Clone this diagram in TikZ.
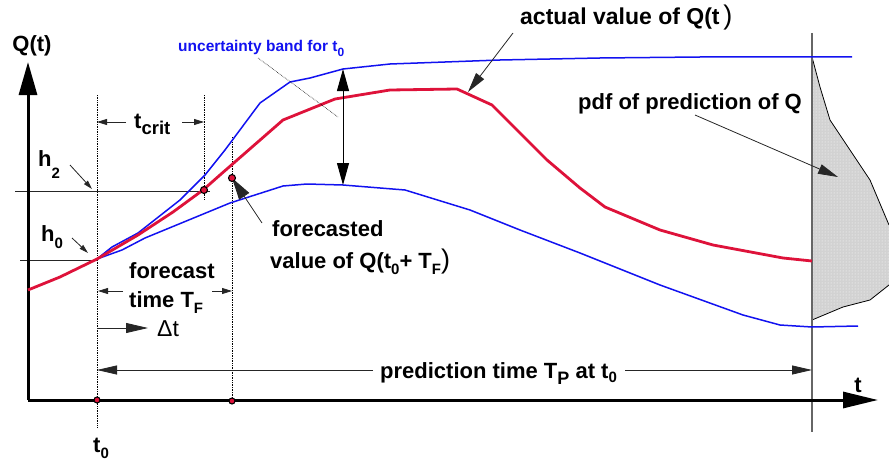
\documentclass[tikz,border=0pt]{standalone}
\usepackage{fontspec}
\setmainfont{Liberation Sans}
\usetikzlibrary{arrows.meta,patterns}
\definecolor{qred}{RGB}{222,18,58}
\definecolor{qblue}{RGB}{18,18,240}
\newcommand\lsub[2][0.5ex]{\raisebox{-#1}{\fontsize{15}{15}\selectfont #2}}
\newcommand\bigparen{{\mdseries\fontsize{27}{27}\selectfont )}}
\tikzset{
  lbl/.style={font=\bfseries\fontsize{22}{24}\selectfont, inner sep=0pt},
  smalllbl/.style={font=\bfseries\fontsize{15.5}{17}\selectfont, inner sep=0pt, text=qblue},
  axisline/.style={line width=3pt},
  thinline/.style={line width=0.8pt, black!85},
  dotline/.style={densely dotted, line width=0.7pt},
  redcurve/.style={qred, line width=2.8pt, line join=round},
  bluecurve/.style={qblue, line width=1.5pt, line join=round},
  smallarr/.style={thinline, -{Triangle[length=9pt,width=5pt]}},
  reddot/.style={circle, fill=qred, draw=black, line width=1.1pt, inner sep=0pt, minimum size=7pt},
}
\begin{document}
\begin{tikzpicture}[x=1pt,y=-1pt]
\useasboundingbox (0,0) rectangle (889,460);
% pdf shape
\fill[gray!35] (812,57) -- (820,87) -- (830,120) -- (870,180) -- (889,225) -- (889,285) -- (870,300) -- (843,307) -- (812,320) -- cycle;
\fill[pattern=dots, pattern color=white] (812,57) -- (820,87) -- (830,120) -- (870,180) -- (889,225) -- (889,285) -- (870,300) -- (843,307) -- (812,320) -- cycle;
\draw[line width=0.8pt] (812,57) -- (820,87) -- (830,120) -- (870,180) -- (889,225);
\draw[line width=0.8pt] (889,285) -- (870,300) -- (843,307) -- (812,320);
% vertical grey line at prediction horizon
\coordinate (vtop) at (812,33);
\coordinate (vbot) at (812,432);
\draw[line width=1.2pt, gray!80!black] (vtop) -- (vbot);
% dotted vertical lines
\coordinate (d0t) at (97,95);   \coordinate (d0b) at (97,428);
\coordinate (d1t) at (204,95);  \coordinate (d1b) at (204,200);
\coordinate (d2t) at (232,137); \coordinate (d2b) at (232,401);
\draw[dotline] (d0t) -- (d0b);
\draw[dotline] (d1t) -- (d1b);
\draw[dotline] (d2t) -- (d2b);
% h lines
\coordinate (h2a) at (15,191); \coordinate (h2b) at (210,191);
\coordinate (h0a) at (20,260); \coordinate (h0b) at (97,260);
\draw[thinline] (h2a) -- (h2b);
\draw[thinline] (h0a) -- (h0b);
% axes
\coordinate (O) at (28,400);
\coordinate (ytip) at (28,62);
\coordinate (xtip) at (878,400);
\draw[axisline, -{Triangle[length=33pt,width=18pt]}] (O) -- (ytip);
\draw[axisline, -{Triangle[length=35pt,width=16pt]}] (O) -- (xtip);
\node[lbl] (Qlab) at (32,46) {Q(t)};
\node[lbl, anchor=base] (tlab) at (858,392) {t};
% curves
\draw[bluecurve] (97,259) -- (112,247) -- (138,233) -- (180,200) -- (205,175) -- (225,150) -- (260,103) -- (290,82) -- (310,78) -- (343,69) -- (390,64) -- (500,60) -- (600,58) -- (700,57) -- (852,57);
\draw[bluecurve] (97,259) -- (122,250) -- (145,238) -- (230,203) -- (283,186) -- (307,184) -- (343,185) -- (405,190) -- (470,210) -- (520,230) -- (580,253) -- (660,285) -- (743,315) -- (780,325) -- (812,327) -- (858,326);
\draw[redcurve] (28,290) -- (60,277) -- (97,259) -- (138,235) -- (173,212) -- (203,190) -- (220,175) -- (283,120) -- (335,99) -- (390,90) -- (457,89) -- (492,105) -- (547,160) -- (580,188) -- (605,207) -- (660,230) -- (713,245) -- (783,258) -- (812,261);
% uncertainty double arrow
\coordinate (ubtop) at (343,69);
\coordinate (ubbot) at (343,185);
\draw[line width=1pt, {Triangle[length=22pt,width=12pt]}-{Triangle[length=22pt,width=12pt]}] (ubtop) -- (ubbot);
% uncertainty label and dotted pointer
\node[smalllbl, anchor=base west] (unc) at (178,52) {uncertainty band for t\lsub[0.55ex]{\fontsize{12}{12}\selectfont 0}};
\coordinate (ucA) at (258,58);
\coordinate (ucB) at (338,117);
\draw[densely dotted, line width=0.6pt] (ucA) -- (ucB);
% actual value
\node[lbl, font=\bfseries\fontsize{23}{24}\selectfont, anchor=base west] (act) at (520,25) {actual value of Q(t\,\bigparen};
\coordinate (actp) at (468,92);
\draw[thinline, -{Triangle[length=20pt,width=10pt]}] (513,33) -- (actp);
% pdf label
\node[lbl, anchor=base west] (pdf) at (578,110) {pdf of prediction of Q};
\coordinate (pdfp) at (838,177);
\draw[thinline, -{Triangle[length=20pt,width=10pt]}] (695,115) -- (pdfp);
% h labels
\node[lbl, anchor=base west] (h2) at (38,166) {h\lsub[12pt]{2}};
\coordinate (h2p) at (92,189);
\draw[smallarr] (70,165) -- (h2p);
\node[lbl, anchor=base west] (h0) at (41,241) {h\lsub[7pt]{0}};
\coordinate (h0p) at (88,253);
\draw[smallarr] (72,238) -- (h0p);
% t crit
\node[lbl, anchor=base west] (tcrit) at (134,128) {t\lsub[6pt]{\fontsize{18.5}{18}\selectfont crit}};
\coordinate (tcl) at (97,122); \coordinate (tcr) at (204,122);
\draw[smallarr, -{Triangle[length=10pt,width=6pt]}] (126,122) -- (tcl);
\draw[smallarr, -{Triangle[length=10pt,width=6pt]}] (182,122) -- (tcr);
% forecast time
\node[lbl, anchor=base west] (fc1) at (129,278) {forecast};
\node[lbl, anchor=base west] (fc2) at (129,307) {time T\lsub[6pt]{F}};
\coordinate (ftl) at (98,291); \coordinate (ftr) at (232,291);
\draw[smallarr, -{Triangle[length=10pt,width=6pt]}] (123,291) -- (ftl);
\draw[smallarr, -{Triangle[length=10pt,width=6pt]}] (212,291) -- (ftr);
% delta t
\coordinate (dts) at (97,328);
\node[font=\fontsize{23}{24}\selectfont, inner sep=0pt, anchor=base west] (dt) at (157,336) {Δt};
\draw[thinline, -{Triangle[length=22pt,width=10pt]}] (dts) -- (148,328);
% prediction time
\node[lbl, anchor=base west] (pt) at (380,378) {prediction time T\lsub[6pt]{\fontsize{18}{18}\selectfont P} at t\lsub[4pt]{0}};
\coordinate (ptl) at (97,370); \coordinate (ptr) at (812,370);
\draw[thinline, -{Triangle[length=20pt,width=9pt]}] (373,370) -- (ptl);
\draw[thinline, -{Triangle[length=20pt,width=9pt]}] (625,370) -- (ptr);
% forecasted value
\node[lbl, anchor=base west] (fv1) at (272,236) {forecasted};
\node[lbl, anchor=base west] (fv2) at (270,268) {value of Q(t\lsub[6pt]{0}+ T\lsub[6pt]{F}\bigparen};
\coordinate (fvp) at (232,178);
\draw[thinline, -{Triangle[length=22pt,width=12pt]}] (262,223) -- (fvp);
% t0 label
\node[lbl, anchor=base west] (t0) at (93,452) {t\lsub[6pt]{0}};
% red dots
\node[reddot] (p1) at (204,190) {};
\node[reddot] (p2) at (232,178) {};
\node[reddot, minimum size=6pt] (a1) at (97,400) {};
\node[reddot, minimum size=6pt] (a2) at (232,401) {};
\end{tikzpicture}
\end{document}
